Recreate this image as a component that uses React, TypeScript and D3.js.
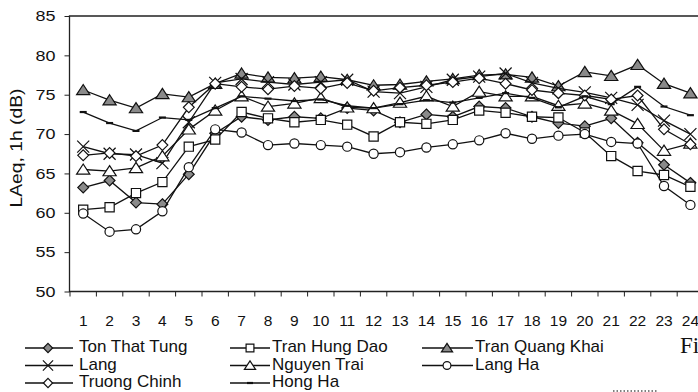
import React, { useEffect, useRef } from 'react';
import * as d3 from 'd3';

// hour of day
const hours = ['1', '2', '3', '4', '5', '6', '7', '8', '9', '10', '11', '12',
  '13', '14', '15', '16', '17', '18', '19', '20', '21', '22', '23', '24'];

const yTicks = [50, 55, 60, 65, 70, 75, 80, 85];

// LAeq,1h (dB) per street
const tonThatTung = [63.2, 64.1, 61.3, 61.1, 64.9, 70.1, 72.2, 71.8, 72.2, 72.0, 73.3, 73.0, 71.5, 72.5, 72.2, 73.5, 73.3, 72.2, 71.4, 71.0, 72.0, 68.9, 66.1, 63.8];
const tranHungDao = [60.4, 60.7, 62.5, 63.9, 68.4, 69.3, 72.8, 72.0, 71.5, 71.8, 71.2, 69.7, 71.5, 71.3, 71.8, 73.0, 72.7, 72.2, 72.1, 70.2, 67.2, 65.3, 64.8, 63.3];
const tranQuangKhai = [75.6, 74.3, 73.3, 75.1, 74.7, 76.4, 77.7, 77.2, 77.1, 77.3, 76.9, 76.2, 76.3, 76.7, 77.0, 77.5, 77.6, 77.2, 76.1, 77.9, 77.4, 78.8, 76.4, 75.2];
const lang = [68.4, 67.5, 67.4, 66.3, 71.5, 76.5, 77.0, 76.6, 76.3, 76.6, 76.9, 75.4, 75.2, 76.0, 76.9, 77.3, 77.7, 76.5, 75.8, 75.3, 74.6, 73.7, 71.7, 70.0];
const nguyenTrai = [65.5, 65.3, 65.7, 67.2, 70.6, 73.0, 74.8, 73.5, 73.9, 74.6, 73.4, 73.3, 74.0, 74.8, 73.5, 75.4, 74.8, 74.8, 73.6, 73.9, 73.0, 71.3, 67.9, 68.8];
const langHa = [59.9, 57.6, 57.9, 60.2, 65.8, 70.6, 70.2, 68.6, 68.8, 68.6, 68.4, 67.5, 67.7, 68.3, 68.7, 69.2, 70.1, 69.4, 69.8, 70.0, 69.0, 68.8, 63.4, 61.0];
const truongChinh = [67.3, 67.6, 67.2, 68.6, 73.4, 76.4, 76.0, 75.7, 76.1, 75.8, 76.5, 75.5, 75.9, 76.2, 76.6, 77.1, 76.4, 75.6, 75.2, 74.9, 74.4, 74.9, 70.6, 68.7];
const hongHa = [72.8, 71.4, 70.4, 72.1, 71.8, 73.3, 74.8, 74.5, 74.2, 74.4, 73.6, 73.3, 73.8, 74.3, 74.0, 74.6, 75.2, 74.6, 73.4, 74.8, 73.8, 76.0, 73.5, 72.4];

const seriesNames = ['Ton That Tung', 'Tran Hung Dao', 'Tran Quang Khai', 'Lang', 'Nguyen Trai', 'Lang Ha', 'Truong Chinh', 'Hong Ha'];
const seriesValues = [tonThatTung, tranHungDao, tranQuangKhai, lang, nguyenTrai, langHa, truongChinh, hongHa];
const seriesMarkers = ['diamondFill', 'square', 'triangleFill', 'x', 'triangle', 'circle', 'diamond', 'dash'];

const GRAY = '#8a8a8a';
const FONT = '"Liberation Sans", Arial, sans-serif';

// marker shape centred on 0,0; k scales it
function markerPath(kind: string, k = 1) {
  if (kind.startsWith('diamond')) { const s = 5.4 * k; return `M0,${-s}L${s},0L0,${s}L${-s},0Z`; }
  if (kind === 'square') { const s = 4.6 * k; return `M${-s},${-s}H${s}V${s}H${-s}Z`; }
  if (kind.startsWith('triangle')) { const s = 5.5 * k; return `M0,${-s}L${s * 1.2},${s * 0.85}L${-s * 1.2},${s * 0.85}Z`; }
  if (kind === 'x') { const s = 6 * k; return `M${-s},${-s}L${s},${s}M${s},${-s}L${-s},${s}`; }
  if (kind === 'dash') { const s = 3.5 * k; return `M${-s},0H${s}`; }
  return '';
}

function drawMarker(g: d3.Selection<SVGGElement, unknown, null, undefined>, kind: string, cx: number, cy: number, k = 1) {
  if (kind === 'circle') {
    g.append('circle').attr('cx', cx).attr('cy', cy).attr('r', 4.6 * k)
      .attr('fill', '#fff').attr('stroke', '#111').attr('stroke-width', 1.2);
    return;
  }
  const filled = kind.endsWith('Fill');
  g.append('path')
    .attr('d', markerPath(kind, k))
    .attr('transform', `translate(${cx},${cy})`)
    .attr('fill', kind === 'x' || kind === 'dash' ? 'none' : filled ? GRAY : '#fff')
    .attr('stroke', '#111')
    .attr('stroke-width', kind === 'dash' ? 2.2 : 1.2);
}

const App: React.FC = () => {
  const svgRef = useRef<SVGSVGElement | null>(null);

  useEffect(() => {
    const svgEl = svgRef.current;
    if (!svgEl) return;
    const svg = d3.select(svgEl);
    svg.selectAll('*').remove();

    const x = d3.scaleBand<string>().domain(hours).range([70, 703.6]);
    const y = d3.scaleLinear().domain([50, 85]).range([291.5, 16]);
    const cx = (h: string) => (x(h) as number) + x.bandwidth() / 2;

    // frame: left axis, bottom axis, top border
    svg.append('path')
      .attr('d', `M720,${y(85)}H69.5V${y(50)}H720`)
      .attr('fill', 'none').attr('stroke', '#222').attr('stroke-width', 1.3);

    // y axis
    const yAxis = svg.append('g').attr('transform', 'translate(69.5,0)')
      .call(d3.axisLeft(y).tickValues(yTicks).tickSize(5).tickPadding(9));
    yAxis.select('.domain').remove();
    yAxis.selectAll('line').attr('stroke', '#222');
    yAxis.selectAll('text')
      .attr('font-family', FONT).attr('font-size', 15).attr('fill', '#111')
      .attr('textLength', 20).attr('lengthAdjust', 'spacingAndGlyphs');

    // x ticks on category boundaries
    const bounds = [...hours.map((h) => x(h) as number), 703.6];
    svg.append('g').selectAll('line').data(bounds).enter().append('line')
      .attr('x1', (d) => d).attr('x2', (d) => d)
      .attr('y1', y(50)).attr('y2', y(50) + 5)
      .attr('stroke', '#222');

    svg.append('g').selectAll('text').data(hours).enter().append('text')
      .attr('x', (d) => cx(d)).attr('y', 325.5)
      .attr('text-anchor', 'middle')
      .attr('font-family', FONT).attr('font-size', 15.5).attr('fill', '#111')
      .text((d) => d);

    svg.append('text')
      .attr('transform', 'translate(22,148) rotate(-90)')
      .attr('text-anchor', 'middle')
      .attr('font-family', FONT).attr('font-size', 16).attr('fill', '#111')
      .attr('textLength', 119).attr('lengthAdjust', 'spacingAndGlyphs')
      .text('LAeq, 1h (dB)');

    // series
    const line = d3.line<number>().x((_, i) => cx(hours[i])).y((d) => y(d));
    seriesValues.forEach((vals, si) => {
      const g = svg.append('g');
      g.append('path').attr('d', line(vals) as string)
        .attr('fill', 'none').attr('stroke', '#111').attr('stroke-width', 1.3);
      vals.forEach((v, i) => drawMarker(g, seriesMarkers[si], cx(hours[i]), y(v)));
    });

    // legend, three columns
    const cols = [
      { x1: 25, x2: 73, mx: 48, tx: 79 },
      { x1: 230, x2: 270, mx: 250, tx: 272 },
      { x1: 422, x2: 473, mx: 447, tx: 475 },
    ];
    const rowBase = [352, 369.5, 387];
    const lg = svg.append('g');
    seriesNames.forEach((name, i) => {
      const c = cols[i % 3];
      const b = rowBase[Math.floor(i / 3)];
      const ly = b - 4;
      lg.append('line').attr('x1', c.x1).attr('x2', c.x2).attr('y1', ly).attr('y2', ly)
        .attr('stroke', '#111').attr('stroke-width', 1.3);
      drawMarker(lg, seriesMarkers[i], c.mx, ly, 0.85);
      lg.append('text').attr('x', c.tx).attr('y', b)
        .attr('font-family', FONT).attr('font-size', 17).attr('fill', '#111')
        .text(name);
    });

    // cut-off caption of the page
    svg.append('text').attr('x', 680).attr('y', 353)
      .attr('font-family', '"Liberation Serif", "Times New Roman", serif')
      .attr('font-size', 23).attr('fill', '#111').text('Fi');
    svg.append('line').attr('x1', 613).attr('x2', 657).attr('y1', 391).attr('y2', 391)
      .attr('stroke', '#555').attr('stroke-width', 1.5).attr('stroke-dasharray', '1.5,2');
  }, []);

  return (
    <div style={{ position: 'fixed', left: 0, top: 0, width: 698, height: 392, background: '#fff', overflow: 'hidden' }}>
      <svg ref={svgRef} width={698} height={392}></svg>
    </div>
  );
};

export default App;
